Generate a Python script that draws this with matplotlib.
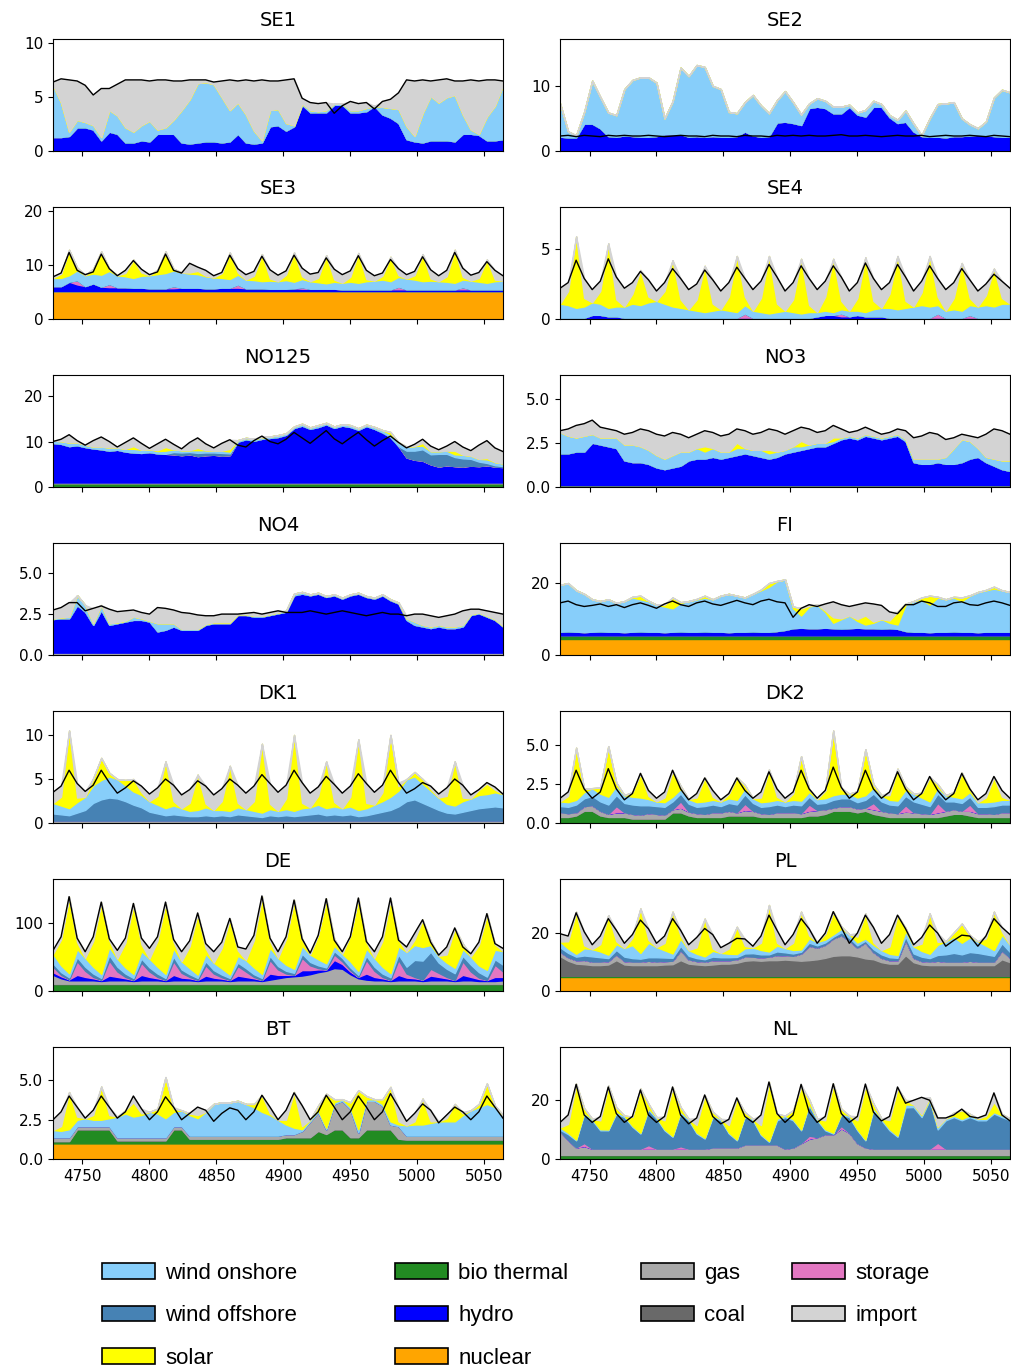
import numpy as np
import matplotlib.pyplot as plt
from matplotlib.patches import Patch

# hours of the year, one sample every 6 h (two weeks)
hours = np.arange(4728, 5065, 6)
N = len(hours)

# ---------------- SE1
se1_hydro = [1.3, 1.3, 1.4, 2.2, 2.2, 2.0, 1.0, 1.8,
             1.6, 0.8, 0.8, 1.0, 0.9, 1.6, 1.6, 1.6,
             0.8, 0.7, 0.8, 0.9, 0.9, 0.8, 0.9, 1.6,
             0.8, 0.7, 0.8, 2.3, 2.4, 1.9, 2.3, 4.3,
             3.6, 3.6, 3.6, 4.3, 4.3, 3.6, 3.6, 3.7,
             4.2, 3.4, 3.1, 2.6, 1.1, 0.9, 0.8, 1.0,
             1.0, 1.0, 0.9, 1.6, 1.6, 1.5, 1.0, 1.0,
             1.1]
se1_onshore = [4.8, 3.2, 0.4, 0.7, 0.5, 0.4, 0.3, 2.0,
               1.7, 1.4, 1.0, 1.4, 1.9, 0.4, 0.6, 1.3,
               3.0, 4.1, 5.5, 5.5, 5.3, 4.2, 2.9, 2.9,
               2.6, 1.2, 0.2, 1.5, 1.5, 0.7, 0.1, 0.1,
               0.2, 0.1, 0.2, 0.1, 0.1, 0.2, 0.2, 0.3,
               0.0, 0.7, 0.9, 1.3, 1.2, 0.5, 2.7, 4.1,
               3.5, 4.0, 4.3, 1.8, 0.4, 0.1, 2.2, 3.2,
               5.0]
se1_load = [6.4, 6.7, 6.6, 6.5, 6.1, 5.2, 5.8, 5.8,
            6.2, 6.6, 6.6, 6.6, 6.5, 6.6, 6.6, 6.5,
            6.5, 6.6, 6.6, 6.6, 6.4, 6.5, 6.6, 6.5,
            6.6, 6.5, 6.6, 6.5, 6.5, 6.6, 6.7, 4.9,
            4.5, 4.4, 4.5, 3.5, 4.2, 4.6, 4.4, 4.5,
            3.9, 4.6, 4.8, 5.4, 6.6, 6.5, 6.6, 6.5,
            6.6, 6.7, 6.5, 6.5, 6.6, 6.5, 6.6, 6.6,
            6.5]

# ---------------- SE2
se2_hydro = [2.2, 2.1, 2.1, 4.2, 4.2, 3.5, 2.3, 2.2,
             2.4, 2.3, 2.2, 2.2, 2.3, 2.6, 2.6, 2.6,
             2.2, 2.3, 2.2, 2.3, 2.2, 2.2, 2.3, 3.0,
             2.4, 2.2, 2.3, 4.4, 4.5, 4.3, 4.0, 6.6,
             6.8, 6.6, 5.8, 5.8, 6.8, 5.6, 5.3, 6.8,
             6.8, 5.2, 4.3, 4.5, 3.0, 2.3, 2.2, 2.2,
             2.1, 2.3, 2.3, 2.4, 2.5, 2.4, 2.3, 2.2,
             2.2]
se2_onshore = [5.1, 0.9, 0.3, 1.8, 6.6, 4.8, 3.6, 3.3,
               7.1, 8.6, 9.1, 9.1, 8.2, 2.4, 5.0, 10.2,
               9.3, 10.9, 10.7, 7.7, 7.3, 3.8, 3.5, 4.5,
               6.2, 4.8, 3.5, 3.4, 4.7, 3.2, 1.6, 0.7,
               1.3, 1.1, 1.0, 1.0, 0.3, 0.3, 1.0, 0.9,
               0.4, 0.3, 0.5, 1.7, 1.2, 0.1, 2.8, 5.0,
               5.2, 5.2, 2.7, 1.7, 1.0, 2.1, 5.9, 7.2,
               6.8]
se2_load = [2.3, 2.4, 2.2, 2.4, 2.3, 2.2, 2.4, 2.3,
            2.4, 2.3, 2.3, 2.4, 2.3, 2.2, 2.3, 2.4,
            2.3, 2.3, 2.2, 2.4, 2.3, 2.3, 2.2, 2.4,
            2.3, 2.3, 2.2, 2.4, 2.3, 2.4, 2.3, 2.4,
            2.3, 2.3, 2.4, 2.5, 2.3, 2.3, 2.4, 2.3,
            2.2, 2.3, 2.4, 2.3, 2.3, 2.4, 2.2, 2.3,
            2.4, 2.3, 2.3, 2.4, 2.3, 2.2, 2.4, 2.3,
            2.2]

# ---------------- SE3
se3_nuclear = [5.2] * N
se3_hydro = [0.9, 0.9, 1.7, 1.2, 0.9, 1.4, 0.8, 0.7,
             0.7, 0.7, 0.6, 0.6, 0.5, 0.5, 0.5, 0.5,
             0.6, 0.6, 0.6, 0.5, 0.5, 0.6, 0.6, 0.6,
             0.5, 0.5, 0.5, 0.4, 0.4, 0.4, 0.5, 0.4,
             0.4, 0.4, 0.4, 0.4, 0.3, 0.3, 0.3, 0.3,
             0.3, 0.3, 0.3, 0.3, 0.3, 0.3, 0.3, 0.3,
             0.3, 0.3, 0.3, 0.3, 0.3, 0.3, 0.3, 0.3,
             0.3]
se3_onshore = [1.5, 1.5, 1.2, 1.8, 2.0, 1.8, 2.2, 2.4,
               2.2, 2.0, 1.8, 2.2, 2.4, 2.6, 2.8, 2.9,
               2.8, 2.6, 2.5, 2.2, 2.0, 1.8, 1.6, 1.8,
               1.6, 1.5, 1.3, 1.5, 1.4, 1.6, 1.2, 1.5,
               1.4, 1.2, 1.0, 1.3, 1.2, 1.4, 1.2, 1.5,
               1.6, 1.8, 1.5, 1.8, 2.0, 1.8, 1.5, 1.6,
               1.5, 1.4, 1.2, 1.4, 1.6, 1.4, 1.2, 1.5,
               1.6]
se3_solar = [0, 0.8, 4.7, 0.5, 0, 0.9, 4.3, 0.4,
             0, 0.6, 3.4, 0.6, 0, 0.8, 4.0, 0.3,
             0, 0.2, 0.6, 0.1, 0, 0.9, 4.9, 0.4,
             0, 0.8, 5.0, 0.4, 0, 1.0, 5.4, 0.5,
             0, 0.8, 5.2, 0.4, 0, 0.9, 5.5, 0.4,
             0, 0.7, 4.5, 0.3, 0, 0.8, 5.0, 0.4,
             0, 1.0, 6.1, 0.5, 0, 0.7, 4.3, 0.3,
             0]
se3_storage = [0, 0, 0, 0.8, 0, 0, 0, 0.6,
               0, 0, 0, 0, 0, 0, 0, 0.4,
               0, 0, 0, 0, 0, 0, 0, 0.6,
               0, 0, 0, 0, 0, 0, 0, 0.3,
               0, 0, 0, 0, 0, 0, 0, 0,
               0, 0, 0, 0.5, 0, 0, 0, 0,
               0, 0, 0, 0.4, 0, 0, 0, 0,
               0]
se3_load = [7.8, 8.5, 12.3, 9.0, 8.2, 8.7, 12.0, 9.3,
            8.0, 9.0, 10.8, 9.2, 8.2, 8.7, 12.0, 9.0,
            8.5, 10.3, 9.6, 9.0, 8.0, 8.6, 11.8, 9.3,
            8.2, 8.8, 11.6, 9.1, 8.1, 8.9, 11.8, 9.4,
            8.3, 8.6, 11.3, 9.2, 8.2, 8.9, 11.7, 9.0,
            8.0, 8.5, 11.0, 9.3, 8.2, 8.8, 11.5, 9.1,
            8.0, 9.0, 12.3, 9.4, 8.1, 8.6, 10.6, 9.0,
            8.0]

# ---------------- SE4
se4_hydro = [0.1, 0.1, 0.1, 0.1, 0.3, 0.3, 0.2, 0.2,
             0.1, 0.1, 0.1, 0.1, 0.1, 0.1, 0.1, 0.1,
             0.1, 0.1, 0.1, 0.1, 0.1, 0.1, 0.1, 0.1,
             0.1, 0.1, 0.1, 0.1, 0.1, 0.1, 0.1, 0.1,
             0.2, 0.3, 0.3, 0.2, 0.2, 0.3, 0.2, 0.2,
             0.2, 0.1, 0.1, 0.1, 0.1, 0.1, 0.1, 0.1,
             0.1, 0.1, 0.1, 0.1, 0.1, 0.1, 0.1, 0.1,
             0.1]
se4_onshore = [1.0, 0.9, 0.7, 0.8, 0.9, 0.8, 0.6, 0.7,
               0.8, 1.0, 0.9, 1.1, 1.2, 1.0, 0.8, 0.7,
               0.6, 0.5, 0.4, 0.5, 0.6, 0.5, 0.4, 0.6,
               0.5, 0.4, 0.3, 0.4, 0.5, 0.4, 0.3, 0.4,
               0.3, 0.3, 0.2, 0.3, 0.4, 0.3, 0.3, 0.5,
               0.6, 0.7, 0.6, 0.7, 0.8, 0.9, 0.8, 0.6,
               0.5, 0.6, 0.5, 0.7, 0.8, 0.9, 0.8, 1.0,
               1.0]
se4_solar = [0, 1.0, 5.1, 0.6, 0, 0.9, 4.6, 0.5,
             0, 0.7, 2.5, 0.4, 0, 0.9, 3.3, 0.6,
             0, 0.8, 3.3, 0.5, 0, 1.0, 4.0, 0.6,
             0, 1.0, 4.1, 0.6, 0, 0.9, 3.9, 0.5,
             0, 1.0, 3.8, 0.6, 0, 0.9, 3.9, 0.6,
             0, 1.0, 3.8, 0.5, 0, 0.9, 3.6, 0.6,
             0, 0.8, 3.4, 0.5, 0, 0.7, 2.7, 0.4,
             0]
se4_storage = [0, 0, 0, 0, 0, 0, 0, 0,
               0, 0, 0, 0, 0, 0, 0, 0,
               0, 0, 0, 0, 0, 0, 0, 0.3,
               0, 0, 0, 0, 0, 0, 0, 0,
               0, 0, 0, 0.2, 0, 0, 0, 0,
               0, 0, 0, 0, 0, 0, 0, 0.3,
               0, 0, 0, 0.2, 0, 0, 0, 0,
               0]
se4_load = [2.2, 2.6, 4.2, 2.9, 2.1, 2.7, 4.3, 3.0,
            2.2, 2.6, 3.4, 2.8, 2.0, 2.6, 3.6, 2.9,
            2.1, 2.5, 3.5, 2.8, 2.0, 2.6, 3.7, 2.9,
            2.1, 2.7, 3.9, 3.0, 2.0, 2.6, 3.8, 2.9,
            2.1, 2.7, 3.8, 3.0, 2.0, 2.6, 4.0, 2.9,
            2.1, 2.6, 3.9, 3.0, 2.0, 2.7, 3.8, 2.9,
            2.1, 2.6, 3.6, 2.8, 2.0, 2.5, 3.2, 2.7,
            2.2]

# ---------------- NO125
no125_bio = [1.0] * N
no125_hydro = [8.7, 8.5, 8.0, 8.2, 7.8, 7.5, 7.3, 7.0,
               7.2, 6.8, 6.6, 6.5, 6.7, 6.4, 6.3, 6.2,
               6.0, 6.2, 5.8, 6.0, 6.1, 5.9, 6.0, 9.0,
               9.5, 9.2, 9.6, 9.8, 10.0, 10.5, 12.0, 12.5,
               11.8, 12.2, 12.8, 12.0, 12.5, 12.2, 11.6, 12.4,
               11.8, 11.0, 10.0, 8.0, 5.5, 5.0, 4.8, 4.0,
               3.5, 3.8, 3.6, 3.5, 3.7, 3.6, 3.8, 3.5,
               3.4]
no125_offshore = [0, 0, 0, 0, 0, 0, 0, 0,
                  0, 0, 0, 0, 0, 0, 0, 0.5,
                  0.6, 0.5, 0.7, 0.6, 0.5, 0.6, 0.4, 0,
                  0, 0, 0, 0, 0, 0, 0, 0,
                  0, 0, 0, 0, 0, 0, 0, 0,
                  0, 0, 0, 0, 1.5, 2.0, 2.5, 2.2,
                  2.8, 2.5, 2.0, 1.8, 1.5, 1.0, 0.5, 0.3,
                  0.2]
no125_onshore = [0.5, 0.6, 0.8, 0.6, 0.5, 0.4, 0.6, 0.7,
                 0.5, 0.6, 0.8, 0.7, 0.6, 0.5, 0.7, 0.6,
                 0.5, 0.4, 0.6, 0.5, 0.4, 0.5, 0.4, 0.3,
                 0.3, 0.4, 0.3, 0.3, 0.4, 0.3, 0.3, 0.4,
                 0.3, 0.4, 0.3, 0.3, 0.3, 0.4, 0.3, 0.3,
                 0.4, 0.5, 0.6, 0.8, 0.9, 1.0, 0.8, 0.7,
                 0.6, 0.7, 0.6, 0.8, 0.7, 0.6, 0.8, 0.7,
                 0.6]
no125_solar = [0, 0, 0, 0, 0, 0, 0, 0,
               0, 0, 0.6, 0, 0, 0.2, 0.8, 0,
               0, 0, 0.5, 0, 0, 0, 0.6, 0,
               0, 0, 0, 0, 0, 0, 0, 0,
               0, 0, 0, 0, 0, 0, 0, 0,
               0, 0, 0.5, 0, 0, 0, 0.6, 0,
               0, 0, 0.8, 0, 0, 0, 0.3, 0,
               0]
no125_load = [10.0, 10.5, 11.5, 10.2, 9.2, 10.2, 11.0, 10.0,
              8.8, 9.8, 10.8, 9.6, 8.5, 9.5, 10.5, 9.4,
              8.4, 9.8, 10.8, 9.5, 8.6, 9.6, 10.4, 9.2,
              8.8, 10.2, 11.2, 10.0, 9.5, 10.5, 12.0, 10.8,
              9.6, 11.0, 12.4, 10.6, 9.5, 10.8, 12.0, 10.4,
              9.0, 10.2, 11.2, 9.8, 8.6, 9.4, 10.5, 9.0,
              8.2, 9.0, 10.0, 8.8, 8.0, 9.2, 10.2, 8.6,
              7.8]

# ---------------- NO3
no3_bio = [0.12] * N
no3_hydro = [1.8, 1.8, 1.9, 1.9, 2.4, 2.3, 2.2, 2.1,
             1.4, 1.3, 1.3, 1.2, 1.0, 0.9, 1.0, 1.1,
             1.4, 1.5, 1.5, 1.6, 1.5, 1.6, 1.7, 1.8,
             1.7, 1.6, 1.5, 1.6, 1.8, 1.9, 2.0, 2.1,
             2.2, 2.2, 2.4, 2.6, 2.7, 2.6, 2.8, 2.7,
             2.6, 2.7, 2.8, 2.5, 1.3, 1.2, 1.2, 1.3,
             1.2, 1.2, 1.3, 1.5, 1.6, 1.3, 1.1, 0.9,
             0.8]
no3_onshore = [1.2, 1.0, 0.8, 0.9, 0.5, 0.4, 0.5, 0.6,
               0.9, 1.0, 0.9, 0.8, 0.7, 0.6, 0.7, 0.8,
               0.5, 0.6, 0.4, 0.5, 0.4, 0.3, 0.4, 0.3,
               0.3, 0.4, 0.3, 0.3, 0.2, 0.3, 0.2, 0.2,
               0.2, 0.2, 0.1, 0.1, 0.1, 0.1, 0.1, 0.1,
               0.1, 0.1, 0.1, 0.1, 0.2, 0.3, 0.3, 0.2,
               0.4, 0.9, 1.3, 1.0, 0.5, 0.3, 0.4, 0.5,
               0.6]
no3_solar = [0, 0, 0, 0, 0, 0, 0, 0,
             0, 0, 0, 0, 0, 0, 0, 0,
             0, 0, 0.3, 0, 0, 0, 0.3, 0,
             0, 0, 0.2, 0, 0, 0, 0.3, 0,
             0, 0, 0.2, 0, 0, 0, 0, 0,
             0, 0, 0, 0, 0, 0, 0, 0,
             0, 0, 0, 0, 0, 0, 0, 0,
             0]
no3_load = [3.2, 3.3, 3.5, 3.6, 3.8, 3.4, 3.3, 3.2,
            3.0, 3.1, 3.3, 3.2, 3.0, 2.9, 3.1, 3.0,
            2.8, 3.0, 3.2, 3.1, 2.9, 3.0, 3.3, 3.2,
            3.0, 3.1, 3.3, 3.2, 3.0, 3.2, 3.4, 3.3,
            3.1, 3.2, 3.5, 3.3, 3.1, 3.2, 3.4, 3.2,
            3.0, 3.1, 3.3, 3.2, 2.8, 2.9, 3.1, 3.0,
            2.7, 2.8, 3.0, 2.9, 2.8, 3.0, 3.3, 3.2,
            3.0]

# ---------------- NO4
no4_gas = [0.15] * N
no4_hydro = [2.05, 2.1, 2.1, 2.9, 2.5, 1.7, 2.6, 1.7,
             1.8, 1.9, 2.0, 2.0, 1.9, 1.3, 1.4, 1.6,
             1.4, 1.4, 1.4, 1.7, 1.8, 1.8, 1.8, 2.3,
             2.3, 2.2, 2.2, 2.3, 2.4, 2.5, 3.5, 3.6,
             3.5, 3.6, 3.4, 3.5, 3.3, 3.5, 3.6, 3.4,
             3.3, 3.5, 3.2, 3.0, 2.0, 1.7, 1.6, 1.5,
             1.6, 1.5, 1.5, 1.6, 2.3, 2.4, 2.2, 2.0,
             1.6]
no4_onshore = [0.05, 0.05, 0.1, 0.6, 0.4, 0.1, 0.3, 0.1,
               0.05, 0.05, 0.2, 0.1, 0.05, 0.5, 0.4, 0.2,
               0.05, 0.05, 0.05, 0.05, 0.05, 0.05, 0.05, 0.05,
               0.05, 0.05, 0.05, 0.05, 0.05, 0.05, 0.1, 0.1,
               0.05, 0.05, 0.05, 0.05, 0.05, 0.05, 0.05, 0.05,
               0.05, 0.05, 0.05, 0.05, 0.1, 0.2, 0.1, 0.1,
               0.1, 0.1, 0.1, 0.1, 0.05, 0.05, 0.05, 0.05,
               0.05]
no4_load = [2.75, 2.9, 3.2, 3.2, 2.7, 2.85, 3.0, 2.8,
            2.65, 2.7, 2.75, 2.6, 2.5, 2.9, 2.85, 2.75,
            2.6, 2.55, 2.45, 2.4, 2.4, 2.5, 2.5, 2.5,
            2.55, 2.6, 2.5, 2.6, 2.7, 2.6, 2.6, 2.6,
            2.7, 2.6, 2.5, 2.6, 2.7, 2.6, 2.5, 2.4,
            2.5, 2.6, 2.5, 2.5, 2.4, 2.5, 2.5, 2.4,
            2.3, 2.4, 2.5, 2.7, 2.8, 2.8, 2.7, 2.6,
            2.5]

# ---------------- FI
fi_nuclear = [4.5] * N
fi_bio = [1.0] * N
fi_hydro = [1.0, 1.1, 1.0, 0.9, 1.0, 1.1, 1.0, 1.0,
            0.9, 1.0, 1.1, 1.0, 1.0, 0.9, 1.0, 1.1,
            1.0, 1.0, 1.1, 1.0, 1.0, 0.9, 1.0, 1.0,
            1.1, 1.0, 1.0, 1.2, 1.5, 2.0, 2.1, 2.0,
            2.0, 2.1, 2.0, 1.9, 2.0, 2.1, 2.0, 2.0,
            1.9, 2.0, 1.8, 1.2, 1.0, 1.0, 0.9, 1.0,
            1.0, 1.1, 1.0, 1.0, 0.9, 1.0, 1.0, 1.0,
            1.0]
fi_onshore = [13.0, 13.4, 11.5, 10.6, 9.0, 8.4, 9.0, 8.0,
              8.6, 9.5, 8.9, 8.5, 7.5, 7.1, 6.5, 7.9,
              8.5, 9.0, 9.4, 9.0, 10.0, 10.6, 10.0, 9.5,
              10.4, 11.5, 12.5, 13.8, 14.0, 5.5, 3.4, 6.0,
              6.5, 4.4, 1.5, 2.6, 3.5, 1.9, 1.0, 1.5,
              2.6, 1.5, 1.2, 7.3, 8.5, 9.0, 7.6, 9.5,
              9.0, 9.4, 8.5, 10.0, 11.1, 11.5, 12.0, 11.5,
              11.0]
fi_solar = [0, 0, 0, 0, 0, 0, 0, 0,
            0, 0.2, 1.0, 0.1, 0, 0.5, 3.0, 0.2,
            0, 0.1, 0.5, 0, 0, 0, 0, 0,
            0, 0.2, 1.0, 0.1, 0, 0.5, 2.0, 0.2,
            0, 0.4, 1.5, 0.2, 0, 0.5, 2.5, 0.3,
            0, 0.6, 3.5, 0.3, 0, 0.5, 2.5, 0.2,
            0, 0.2, 1.0, 0.1, 0, 0.1, 0.5, 0,
            0]
fi_load = [14.5, 15.0, 14.0, 13.5, 13.8, 14.2, 13.5, 14.0,
           13.2, 14.0, 14.5, 13.8, 13.0, 14.2, 15.0, 14.0,
           13.5, 14.5, 15.0, 14.2, 13.8, 14.5, 15.2, 14.5,
           14.0, 15.0, 15.5, 14.8, 14.5, 10.5, 13.0, 14.0,
           13.5, 14.2, 14.8, 14.0, 13.5, 14.0, 14.5, 14.2,
           13.8, 12.0, 11.5, 14.0, 14.0, 15.0, 14.5, 13.5,
           13.5, 14.5, 14.8, 14.0, 13.8, 14.5, 15.0, 14.5,
           13.8]

# ---------------- DK1
dk1_gas = [0.3] * N
dk1_offshore = [0.8, 0.7, 0.6, 0.9, 1.2, 2.0, 2.4, 2.6,
                2.5, 2.2, 1.8, 1.5, 1.0, 0.8, 0.6, 0.7,
                0.6, 0.5, 0.5, 0.6, 0.5, 0.6, 0.5, 0.7,
                0.6, 0.5, 0.4, 0.6, 0.5, 0.6, 0.5, 0.6,
                0.7, 0.8, 0.6, 0.7, 0.6, 0.7, 0.5, 0.6,
                0.8, 1.0, 1.2, 1.6, 2.2, 2.4, 2.0, 1.6,
                1.2, 0.9, 0.8, 1.0, 1.2, 1.4, 1.5, 1.6,
                1.5]
dk1_onshore = [1.2, 1.0, 0.8, 1.2, 1.5, 2.0, 2.2, 2.4,
               2.2, 1.8, 1.5, 1.4, 1.2, 1.0, 0.8, 1.0,
               0.8, 0.6, 0.7, 0.9, 0.7, 0.6, 0.6, 0.8,
               0.7, 0.6, 0.5, 0.7, 0.6, 0.7, 0.6, 0.8,
               0.8, 1.0, 0.8, 0.9, 0.8, 0.9, 0.7, 0.8,
               1.0, 1.2, 1.5, 1.8, 2.5, 2.6, 2.2, 1.8,
               1.4, 1.0, 0.9, 1.2, 1.3, 1.5, 1.5, 1.6,
               1.5]
dk1_solar = [0, 1.0, 8.8, 0.5, 0, 0.8, 2.5, 0.4,
             0, 0.6, 1.4, 0.3, 0, 1.0, 5.3, 0.5,
             0, 0.9, 4.0, 0.4, 0, 1.0, 5.1, 0.5,
             0, 1.1, 7.8, 0.6, 0, 1.2, 8.6, 0.6,
             0, 1.0, 5.3, 0.5, 0, 1.1, 8.0, 0.6,
             0, 1.0, 7.0, 0.5, 0, 0.5, 0.5, 0.2,
             0, 0.9, 5.0, 0.4, 0, 0.6, 1.2, 0.3,
             0]
dk1_load = [3.5, 4.2, 6.0, 4.5, 3.6, 4.3, 6.0, 4.6,
            3.4, 4.0, 4.8, 4.2, 3.3, 4.0, 5.0, 4.3,
            3.2, 3.8, 4.8, 4.2, 3.2, 3.9, 5.0, 4.3,
            3.4, 4.2, 5.5, 4.5, 3.5, 4.3, 6.0, 4.6,
            3.4, 4.1, 5.3, 4.4, 3.4, 4.2, 5.6, 4.5,
            3.5, 4.3, 6.0, 4.6, 3.4, 3.9, 4.6, 4.2,
            3.3, 4.0, 5.0, 4.3, 3.2, 3.8, 4.6, 4.1,
            3.3]

# ---------------- DK2
dk2_bio = [0.4, 0.4, 0.5, 0.8, 0.8, 0.5, 0.4, 0.4,
           0.4, 0.3, 0.3, 0.3, 0.3, 0.3, 0.7, 0.7,
           0.5, 0.4, 0.4, 0.4, 0.4, 0.5, 0.5, 0.5,
           0.5, 0.4, 0.4, 0.4, 0.4, 0.4, 0.4, 0.5,
           0.5, 0.6, 0.8, 0.8, 0.8, 0.7, 0.8, 0.6,
           0.5, 0.4, 0.4, 0.4, 0.4, 0.4, 0.4, 0.4,
           0.5, 0.6, 0.6, 0.5, 0.4, 0.4, 0.4, 0.4,
           0.4]
dk2_gas = [0.3, 0.25, 0.2, 0.3, 0.35, 0.3, 0.2, 0.3,
           0.3, 0.3, 0.25, 0.35, 0.3, 0.25, 0.2, 0.3,
           0.25, 0.25, 0.2, 0.3, 0.3, 0.3, 0.2, 0.35,
           0.3, 0.25, 0.2, 0.3, 0.3, 0.3, 0.25, 0.3,
           0.35, 0.3, 0.2, 0.3, 0.3, 0.25, 0.2, 0.3,
           0.3, 0.3, 0.25, 0.35, 0.3, 0.25, 0.2, 0.3,
           0.3, 0.3, 0.2, 0.3, 0.25, 0.25, 0.2, 0.3,
           0.3]
dk2_offshore = [0.4, 0.4, 0.5, 0.5, 0.6, 0.6, 0.6, 0.7,
                0.6, 0.6, 0.6, 0.5, 0.5, 0.5, 0.5, 0.5,
                0.5, 0.4, 0.5, 0.5, 0.4, 0.5, 0.5, 0.6,
                0.5, 0.4, 0.5, 0.5, 0.4, 0.5, 0.5, 0.5,
                0.4, 0.4, 0.5, 0.5, 0.5, 0.4, 0.5, 0.6,
                0.6, 0.5, 0.5, 0.6, 0.7, 0.6, 0.5, 0.6,
                0.6, 0.5, 0.5, 0.5, 0.4, 0.4, 0.5, 0.5,
                0.5]
dk2_onshore = [0.3, 0.3, 0.3, 0.4, 0.5, 0.5, 0.5, 0.6,
               0.5, 0.5, 0.5, 0.4, 0.3, 0.3, 0.3, 0.3,
               0.3, 0.3, 0.3, 0.3, 0.3, 0.3, 0.3, 0.4,
               0.3, 0.3, 0.3, 0.3, 0.3, 0.3, 0.3, 0.3,
               0.3, 0.3, 0.3, 0.3, 0.3, 0.3, 0.3, 0.4,
               0.4, 0.3, 0.3, 0.4, 0.5, 0.4, 0.3, 0.4,
               0.4, 0.3, 0.3, 0.3, 0.3, 0.3, 0.3, 0.3,
               0.3]
dk2_solar = [0, 0.4, 3.35, 0.2, 0, 0.4, 3.25, 0.2,
             0, 0.3, 1.55, 0.2, 0, 0.3, 1.65, 0.2,
             0, 0.3, 1.55, 0.2, 0, 0.3, 1.45, 0.2,
             0, 0.3, 2.05, 0.2, 0, 0.4, 2.85, 0.2,
             0, 0.5, 4.15, 0.3, 0, 0.4, 2.95, 0.2,
             0, 0.3, 2.05, 0.2, 0, 0.3, 1.55, 0.2,
             0, 0.3, 1.65, 0.2, 0, 0.3, 1.55, 0.2,
             0]
dk2_storage = [0, 0, 0, 0, 0, 0, 0, 0.4,
               0, 0, 0, 0, 0, 0, 0, 0.4,
               0, 0, 0, 0, 0, 0, 0, 0.4,
               0, 0, 0, 0, 0, 0, 0, 0.4,
               0, 0, 0, 0, 0, 0, 0, 0.4,
               0, 0, 0, 0.4, 0, 0, 0, 0.6,
               0, 0, 0, 0.4, 0, 0, 0, 0,
               0]
dk2_load = [1.6, 2.0, 3.4, 2.2, 1.6, 2.0, 3.5, 2.2,
            1.5, 1.9, 3.2, 2.1, 1.6, 2.0, 3.4, 2.2,
            1.5, 1.9, 2.9, 2.1, 1.5, 1.9, 2.9, 2.1,
            1.6, 2.0, 3.3, 2.2, 1.6, 2.0, 3.4, 2.2,
            1.6, 2.1, 3.6, 2.3, 1.6, 2.0, 3.4, 2.2,
            1.6, 2.0, 3.3, 2.2, 1.5, 1.9, 3.0, 2.1,
            1.5, 1.9, 3.2, 2.2, 1.5, 1.9, 3.0, 2.1,
            1.6]

# ---------------- DE
de_bio = [11] * N
de_gas = [13, 8, 5, 5, 5, 5, 4, 5,
          5, 5, 4, 5, 5, 5, 4, 5,
          5, 5, 4, 5, 5, 5, 4, 5,
          5, 5, 4, 6, 8, 10, 11, 12,
          14, 17, 19, 23, 22, 14, 8, 6,
          5, 5, 4, 5, 5, 5, 4, 5,
          5, 5, 4, 5, 5, 4, 4, 4,
          5]
de_hydro = [4, 3, 1.5, 8, 5, 3, 1.5, 7,
            5, 3, 1.5, 8, 5, 3, 1.5, 8,
            4, 3, 1.5, 7, 4, 2.5, 1.5, 7,
            5, 3, 1.5, 9, 5, 3, 2, 8,
            6, 4, 2, 12, 7, 4, 2, 9,
            5, 3, 1.5, 8, 4, 3, 2, 7,
            5, 3, 1.5, 8, 5, 3, 1.5, 6,
            5]
de_storage = [8, 2, 0, 20, 9, 2, 0, 22,
              8, 2, 0, 18, 8, 2, 0, 20,
              7, 2, 0, 15, 6, 2, 0, 14,
              8, 2, 0, 20, 8, 2, 0, 18,
              7, 2, 0, 8, 4, 2, 0, 20,
              9, 2, 0, 22, 6, 2, 0, 10,
              6, 2, 0, 20, 8, 2, 0, 18,
              8]
de_offshore = [5, 4, 3, 6, 6, 5, 3, 8,
               7, 5, 3, 6, 6, 5, 3, 7,
               5, 4, 3, 6, 5, 4, 3, 5,
               5, 4, 3, 6, 5, 4, 3, 6,
               5, 4, 3, 5, 5, 4, 3, 6,
               6, 5, 4, 8, 10, 25, 28, 25,
               15, 12, 10, 8, 10, 8, 5, 8,
               10]
de_onshore = [14, 10, 6, 12, 13, 10, 6, 12,
              12, 9, 6, 11, 13, 10, 6, 12,
              12, 9, 5, 11, 11, 9, 5, 10,
              12, 10, 6, 12, 12, 9, 6, 12,
              11, 9, 6, 8, 6, 9, 6, 11,
              13, 10, 6, 12, 22, 22, 20, 10,
              10, 9, 8, 10, 12, 10, 10, 14,
              20]
de_solar = [0, 38, 112, 10, 0, 38, 105, 10,
            0, 36, 103, 10, 0, 38, 105, 10,
            0, 32, 90, 8, 0, 30, 82, 8,
            0, 40, 114, 10, 0, 38, 101, 10,
            0, 36, 95, 10, 0, 38, 107, 10,
            0, 38, 110, 10, 0, 8, 40, 6,
            0, 12, 58, 8, 0, 30, 82, 8,
            0]
de_load = [60, 80, 139, 78, 58, 80, 131, 77,
           60, 78, 129, 78, 63, 80, 131, 76,
           58, 74, 115, 70, 58, 72, 107, 65,
           62, 82, 140, 78, 58, 80, 134, 77,
           56, 82, 136, 75, 58, 80, 137, 73,
           58, 80, 137, 75, 65, 85, 105, 72,
           53, 65, 93, 65, 55, 72, 114, 70,
           63]

# ---------------- PL
pl_nuclear = [5.0] * N
pl_bio = [0.3] * N
pl_coal = [6.8, 5.2, 4.2, 4.0, 3.7, 3.7, 3.9, 5.4,
           3.9, 3.7, 3.7, 3.7, 3.7, 3.9, 4.0, 5.4,
           4.2, 3.9, 3.7, 3.9, 4.2, 4.2, 4.5, 5.2,
           5.4, 5.2, 5.4, 5.4, 5.6, 5.4, 5.2, 5.4,
           5.7, 6.2, 6.9, 7.1, 7.1, 6.7, 6.0, 5.7,
           4.7, 4.2, 4.2, 7.1, 4.7, 3.9, 3.7, 3.7,
           3.7, 3.7, 3.7, 3.7, 3.7, 3.7, 3.7, 5.7,
           4.7]
pl_gas = [1.5, 1.2, 1.2, 1.5, 1.2, 1.2, 1.2, 2.0,
          1.2, 1.2, 1.2, 1.5, 1.2, 1.2, 1.2, 3.4,
          1.5, 1.2, 1.2, 1.5, 1.2, 1.2, 1.2, 1.5,
          1.2, 1.2, 1.2, 1.8, 1.5, 1.5, 2.5, 5.0,
          4.0, 4.5, 6.0, 6.9, 5.0, 3.0, 5.5, 2.5,
          1.5, 1.2, 1.2, 5.2, 1.5, 1.2, 1.2, 1.5,
          1.2, 1.2, 1.2, 1.5, 1.2, 1.2, 1.2, 3.0,
          1.5]
pl_offshore = [1.5, 1.5, 1.2, 1.5, 1.8, 1.5, 1.0, 1.5,
               1.5, 1.2, 1.0, 1.2, 1.5, 1.2, 1.0, 1.5,
               1.2, 1.0, 0.8, 1.2, 1.0, 1.0, 0.8, 1.0,
               1.2, 1.0, 0.8, 1.2, 1.0, 0.8, 0.6, 1.0,
               0.8, 0.8, 0.6, 1.0, 1.0, 0.8, 0.6, 1.0,
               1.2, 1.0, 0.8, 1.2, 1.5, 1.5, 1.2, 2.0,
               2.5, 3.0, 2.5, 3.0, 3.0, 2.5, 2.0, 2.5,
               2.0]
pl_onshore = [2.0, 1.5, 1.0, 2.5, 2.5, 2.0, 1.2, 2.0,
              3.0, 4.5, 2.0, 5.0, 3.5, 2.5, 1.5, 2.5,
              2.0, 1.5, 1.0, 2.0, 1.5, 1.2, 1.0, 1.8,
              2.0, 1.5, 1.0, 2.0, 1.5, 1.2, 0.8, 1.5,
              1.2, 1.0, 0.8, 1.2, 1.2, 1.0, 0.8, 1.5,
              1.5, 1.2, 1.0, 2.0, 2.5, 2.0, 1.5, 3.5,
              4.5, 5.5, 4.0, 5.0, 4.0, 3.0, 2.0, 3.0,
              2.5]
pl_solar = [0, 2.5, 14.5, 1.0, 0, 2.5, 13.6, 1.0,
            0, 2.5, 15.3, 1.0, 0, 2.5, 14.4, 1.0,
            0, 2.2, 13.0, 0.8, 0, 1.8, 9.4, 0.8,
            0, 2.5, 16.0, 1.0, 0, 2.5, 13.0, 1.0,
            0, 2.0, 7.8, 0.8, 0, 2.0, 8.6, 0.8,
            0, 2.5, 13.7, 1.0, 0, 2.5, 13.9, 1.0,
            0, 1.5, 6.6, 0.8, 0, 2.5, 13.2, 1.0,
            0]
pl_load = [19.8, 19.0, 27.0, 20.5, 16.0, 19.0, 25.0, 21.0,
           16.5, 19.5, 24.5, 21.5, 16.5, 19.0, 25.0, 21.0,
           16.0, 18.5, 21.6, 19.5, 15.0, 16.5, 18.2, 18.0,
           15.5, 19.0, 26.2, 21.0, 16.0, 19.5, 25.0, 21.5,
           16.5, 20.0, 27.4, 22.0, 16.5, 20.0, 26.2, 22.0,
           16.5, 19.5, 26.2, 21.5, 16.0, 18.5, 22.8, 20.0,
           15.5, 17.5, 19.3, 19.0, 15.5, 19.0, 25.0, 22.0,
           19.5]

# ---------------- BT
bt_nuclear = [1.0] * N
bt_bio = [0.15, 0.15, 0.15, 0.9, 0.9, 0.9, 0.9, 0.9,
          0.2, 0.2, 0.2, 0.2, 0.2, 0.2, 0.2, 0.9,
          0.9, 0.3, 0.3, 0.3, 0.3, 0.3, 0.3, 0.3,
          0.3, 0.3, 0.3, 0.3, 0.3, 0.4, 0.4, 0.4,
          0.4, 0.8, 0.6, 0.9, 0.9, 0.4, 0.4, 0.9,
          0.9, 0.9, 0.9, 0.3, 0.25, 0.25, 0.25, 0.25,
          0.25, 0.25, 0.25, 0.25, 0.25, 0.25, 0.25, 0.25,
          0.25]
bt_gas = [0.25, 0.25, 0.25, 0.2, 0.2, 0.2, 0.2, 0.2,
          0.2, 0.2, 0.2, 0.2, 0.2, 0.2, 0.2, 0.2,
          0.2, 0.2, 0.2, 0.2, 0.2, 0.2, 0.2, 0.2,
          0.2, 0.2, 0.2, 0.2, 0.2, 0.2, 0.2, 0.4,
          1.0, 1.2, 0.3, 1.6, 1.8, 1.8, 0.3, 1.8,
          1.8, 1.5, 0.3, 0.8, 0.25, 0.25, 0.25, 0.25,
          0.25, 0.25, 0.25, 0.25, 0.25, 0.25, 0.25, 0.25,
          0.25]
bt_onshore = [0.45, 0.4, 0.5, 0.4, 0.5, 0.4, 0.4, 0.5,
              1.3, 1.5, 1.3, 1.4, 1.6, 1.5, 1.2, 0.9,
              1.0, 1.3, 1.1, 1.5, 2.0, 2.1, 2.1, 2.2,
              2.0, 1.8, 1.5, 1.3, 1.0, 0.6, 0.4, 0.1,
              0.1, 0.1, 0.1, 0.1, 0.1, 0.1, 0.2, 0.1,
              0.1, 0.1, 0.2, 0.1, 0.65, 0.7, 0.7, 0.8,
              0.9, 0.9, 0.9, 1.3, 1.6, 1.8, 2.0, 1.8,
              1.3]
bt_solar = [0, 0.3, 2.35, 0.2, 0, 0.3, 2.1, 0.2,
            0, 0.2, 0.9, 0.1, 0, 0.3, 2.6, 0.2,
            0, 0.1, 0.2, 0, 0, 0, 0, 0,
            0, 0.2, 1.05, 0.1, 0, 0.3, 2.26, 0.2,
            0, 0.3, 2.15, 0.2, 0, 0.3, 2.47, 0.2,
            0, 0.3, 2.18, 0.2, 0, 0.2, 1.64, 0.1,
            0, 0.2, 1.1, 0.1, 0, 0.2, 1.3, 0.1,
            0]
bt_load = [2.5, 3.0, 4.0, 3.3, 2.6, 3.1, 4.0, 3.3,
           2.6, 3.0, 4.0, 3.2, 2.5, 3.0, 3.95, 3.3,
           2.5, 2.9, 3.3, 3.1, 2.4, 2.9, 3.25, 3.1,
           2.5, 3.0, 4.05, 3.3, 2.5, 3.1, 4.2, 3.4,
           2.5, 3.0, 4.05, 3.3, 2.5, 3.0, 4.0, 3.3,
           2.5, 3.0, 4.15, 3.3, 2.4, 2.9, 3.5, 3.1,
           2.3, 2.8, 3.3, 3.0, 2.5, 3.0, 4.0, 3.3,
           2.6]

# ---------------- NL
nl_bio = [1.5] * N
nl_gas = [8.0, 5.0, 2.5, 3.0, 2.1, 2.1, 2.1, 2.1,
          2.1, 2.1, 2.1, 2.1, 2.1, 2.1, 2.1, 2.1,
          2.1, 2.1, 2.1, 2.5, 2.5, 2.5, 2.5, 3.5,
          3.5, 3.5, 3.5, 3.5, 2.1, 2.5, 4.0, 5.5,
          6.0, 7.0, 7.0, 9.0, 7.5, 4.0, 2.5, 2.1,
          2.1, 2.1, 2.1, 2.1, 2.1, 2.1, 2.1, 2.1,
          2.1, 2.1, 2.1, 2.1, 2.1, 2.1, 2.1, 2.1,
          2.1]
nl_offshore = [0.5, 2.0, 2.4, 9.8, 9.6, 6.2, 6.2, 11.9,
               10.7, 7.4, 5.1, 11.9, 10.2, 6.2, 4.0, 11.3,
               9.6, 5.1, 3.4, 10.3, 9.2, 4.7, 2.4, 9.3,
               8.2, 3.2, 0.9, 8.2, 10.7, 9.2, 4.3, 10.2,
               5.7, 1.3, 0.2, 3.8, 5.3, 4.3, 2.4, 13.0,
               9.6, 6.2, 4.0, 14.0, 14.1, 10.7, 16.4, 4.5,
               9.6, 10.7, 9.6, 10.7, 9.6, 9.6, 11.9, 10.7,
               9.6]
nl_onshore = [0.8, 0.5, 0.3, 0.5, 0.5, 0.4, 0.3, 0.6,
              0.5, 0.4, 0.3, 0.6, 0.5, 0.4, 0.3, 0.5,
              0.5, 0.4, 0.3, 0.6, 0.5, 0.4, 0.3, 0.5,
              0.5, 0.4, 0.3, 0.6, 0.5, 0.4, 0.3, 0.6,
              0.5, 0.4, 0.3, 0.5, 0.5, 0.4, 0.3, 0.8,
              0.6, 0.5, 0.4, 1.0, 0.8, 0.6, 0.5, 0.8,
              0.6, 0.5, 0.5, 0.6, 0.6, 0.5, 0.5, 0.6,
              0.6]
nl_storage = [0, 0, 0, 1.0, 0, 0, 0, 0,
              0, 0, 0, 1.2, 0, 0, 0, 0.8,
              0, 0, 0, 0, 0, 0, 0, 0,
              0, 0, 0, 0, 0, 0, 0, 1.0,
              0, 0, 0, 0.8, 0, 0, 0, 0,
              0, 0, 0, 0, 0, 0, 0, 2.0,
              0, 0, 0, 0, 0, 0, 0, 0,
              0]
nl_solar = [0, 3.0, 18.9, 1.5, 0, 3.0, 14.9, 1.5,
            0, 3.0, 15.0, 1.5, 0, 3.0, 16.6, 1.5,
            0, 2.5, 14.4, 1.2, 0, 2.5, 13.9, 1.2,
            0, 3.0, 20.0, 1.5, 0, 3.0, 14.4, 1.5,
            0, 3.0, 16.6, 1.5, 0, 3.0, 18.3, 1.5,
            0, 3.0, 16.0, 1.5, 0, 0.3, 0.5, 0.2,
            0, 1.0, 2.9, 0.5, 0, 1.0, 3.4, 0.5,
            0]
nl_load = [12.5, 15.0, 25.4, 15.0, 12.5, 14.5, 24.5, 15.5,
           12.5, 14.5, 23.5, 15.0, 12.5, 14.5, 24.5, 15.0,
           12.0, 14.0, 21.8, 14.5, 12.0, 13.5, 20.8, 14.5,
           12.5, 15.0, 26.2, 15.5, 12.5, 15.0, 25.4, 16.0,
           12.5, 14.5, 25.6, 15.5, 12.5, 14.5, 25.5, 16.0,
           13.0, 14.5, 24.5, 19.0, 20.0, 21.0, 20.0, 14.0,
           14.0, 15.0, 17.0, 14.5, 14.0, 15.0, 22.5, 15.0,
           13.0]

regions = {
    'SE1': {'hydro': se1_hydro, 'wind onshore': se1_onshore, 'load': se1_load},
    'SE2': {'hydro': se2_hydro, 'wind onshore': se2_onshore, 'load': se2_load},
    'SE3': {'nuclear': se3_nuclear, 'hydro': se3_hydro, 'storage': se3_storage,
            'wind onshore': se3_onshore, 'solar': se3_solar, 'load': se3_load},
    'SE4': {'hydro': se4_hydro, 'storage': se4_storage, 'wind onshore': se4_onshore,
            'solar': se4_solar, 'load': se4_load},
    'NO125': {'bio thermal': no125_bio, 'hydro': no125_hydro, 'wind offshore': no125_offshore,
              'wind onshore': no125_onshore, 'solar': no125_solar, 'load': no125_load},
    'NO3': {'bio thermal': no3_bio, 'hydro': no3_hydro, 'wind onshore': no3_onshore,
            'solar': no3_solar, 'load': no3_load},
    'NO4': {'gas': no4_gas, 'hydro': no4_hydro, 'wind onshore': no4_onshore, 'load': no4_load},
    'FI': {'nuclear': fi_nuclear, 'bio thermal': fi_bio, 'hydro': fi_hydro,
           'wind onshore': fi_onshore, 'solar': fi_solar, 'load': fi_load},
    'DK1': {'gas': dk1_gas, 'wind offshore': dk1_offshore, 'wind onshore': dk1_onshore,
            'solar': dk1_solar, 'load': dk1_load},
    'DK2': {'bio thermal': dk2_bio, 'gas': dk2_gas, 'storage': dk2_storage,
            'wind offshore': dk2_offshore, 'wind onshore': dk2_onshore,
            'solar': dk2_solar, 'load': dk2_load},
    'DE': {'bio thermal': de_bio, 'gas': de_gas, 'hydro': de_hydro, 'storage': de_storage,
           'wind offshore': de_offshore, 'wind onshore': de_onshore,
           'solar': de_solar, 'load': de_load},
    'PL': {'nuclear': pl_nuclear, 'bio thermal': pl_bio, 'coal': pl_coal, 'gas': pl_gas,
           'wind offshore': pl_offshore, 'wind onshore': pl_onshore,
           'solar': pl_solar, 'load': pl_load},
    'BT': {'nuclear': bt_nuclear, 'bio thermal': bt_bio, 'gas': bt_gas,
           'wind onshore': bt_onshore, 'solar': bt_solar, 'load': bt_load},
    'NL': {'bio thermal': nl_bio, 'gas': nl_gas, 'storage': nl_storage,
           'wind offshore': nl_offshore, 'wind onshore': nl_onshore,
           'solar': nl_solar, 'load': nl_load},
}

ylims = {'SE1': 10.4, 'SE2': 17.2, 'SE3': 20.7, 'SE4': 8.0, 'NO125': 24.6, 'NO3': 6.36,
         'NO4': 6.83, 'FI': 31.1, 'DK1': 12.7, 'DK2': 7.2, 'DE': 164.7, 'PL': 38.6,
         'BT': 7.09, 'NL': 38.0}
yticks = {'SE1': [0, 5, 10], 'SE2': [0, 10], 'SE3': [0, 10, 20], 'SE4': [0, 5],
          'NO125': [0, 10, 20], 'NO3': [0, 2.5, 5.0], 'NO4': [0, 2.5, 5.0], 'FI': [0, 20],
          'DK1': [0, 5, 10], 'DK2': [0, 2.5, 5.0], 'DE': [0, 100], 'PL': [0, 20],
          'BT': [0, 2.5, 5.0], 'NL': [0, 20]}

colors = {'wind onshore': 'lightskyblue', 'wind offshore': 'steelblue', 'solar': 'yellow',
          'bio thermal': 'forestgreen', 'hydro': 'blue', 'nuclear': 'orange',
          'gas': 'darkgray', 'coal': 'dimgray', 'storage': '#e377c2', 'import': 'lightgray'}
stack_order = ['nuclear', 'bio thermal', 'coal', 'gas', 'hydro', 'storage',
               'wind offshore', 'wind onshore', 'solar']
legend_cols = [['wind onshore', 'wind offshore', 'solar'],
               ['bio thermal', 'hydro', 'nuclear'],
               ['gas', 'coal'],
               ['storage', 'import']]

fig, axes = plt.subplots(7, 2, sharex=True, figsize=(10.12, 13.67), dpi=100)
fig.subplots_adjust(left=0.0524, right=0.998, top=0.9715, bottom=0.152,
                    wspace=0.127, hspace=0.5)

zeros = np.zeros(N)
for ax, name in zip(axes.flat, regions):
    reg = regions[name]
    load = np.array(reg['load'], dtype=float)
    layers = [np.array(reg.get(t, zeros), dtype=float) for t in stack_order]
    gen = np.sum(layers, axis=0)
    imp = np.clip(load - gen, 0, None)
    ax.stackplot(hours, *layers, imp,
                 colors=[colors[t] for t in stack_order] + [colors['import']],
                 edgecolor='face', linewidth=1.0)
    ax.plot(hours, load, color='black', lw=1.0)
    ax.set_title(name, fontsize=14, pad=9)
    ax.set_xlim(4728, 5064)
    ax.set_ylim(0, ylims[name])
    ax.set_yticks(yticks[name])
    ax.set_xticks([4750, 4800, 4850, 4900, 4950, 5000, 5050])
    ax.tick_params(labelsize=11)

lx = [102, 395, 641, 792]
for x, col in zip(lx, legend_cols):
    handles = [Patch(facecolor=colors[t], edgecolor='black', linewidth=1.2, label=t)
               for t in col]
    fig.legend(handles=handles, loc='upper left', bbox_to_anchor=(x / 1012, 1 - 1263 / 1367),
               frameon=False, borderpad=0, borderaxespad=0, handlelength=2.4,
               handleheight=0.7, handletextpad=0.45, labelspacing=0.96,
               prop={'family': ['Liberation Sans', 'DejaVu Sans'], 'size': 16})

fig.savefig('out.png', dpi=100)
